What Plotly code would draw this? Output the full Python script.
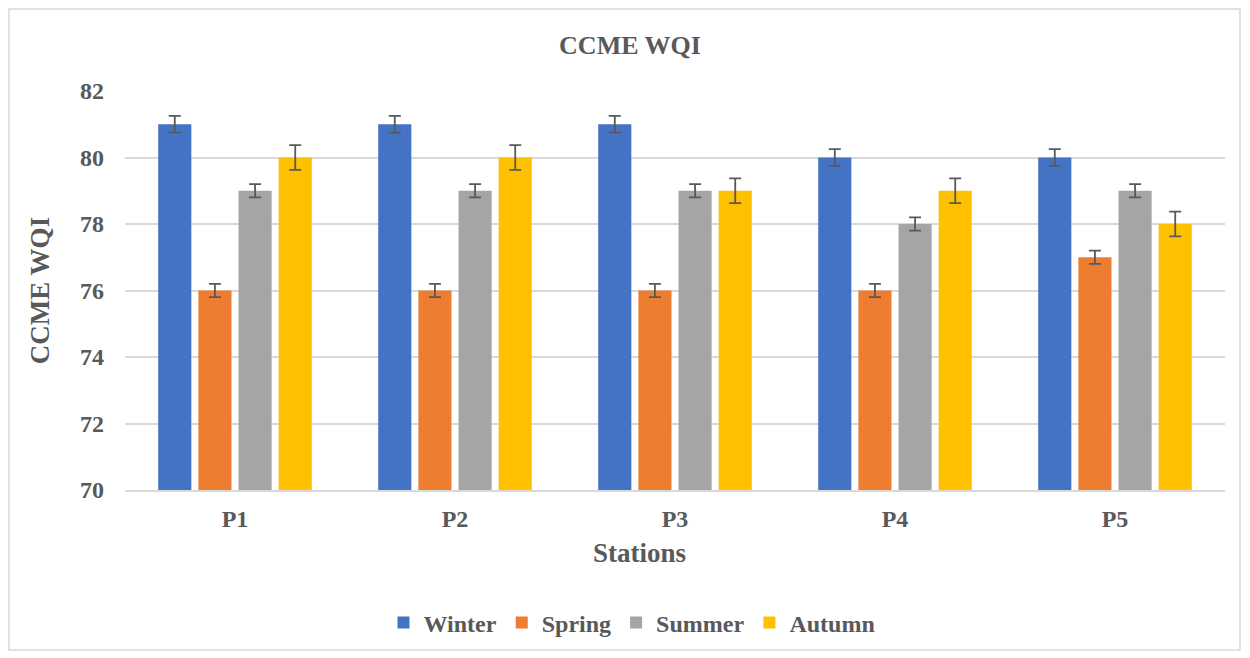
import plotly.graph_objects as go

stations = ["P1", "P2", "P3", "P4", "P5"]
winter = [81, 81, 81, 80, 80]
spring = [76, 76, 76, 76, 77]
summer = [79, 79, 79, 78, 79]
autumn = [80, 80, 79, 79, 78]
err_winter = 0.25
err_spring = 0.2
err_summer = 0.2
err_autumn = 0.37

series = [
    ("Winter", winter, err_winter, "#4472C4"),
    ("Spring", spring, err_spring, "#ED7D31"),
    ("Summer", summer, err_summer, "#A5A5A5"),
    ("Autumn", autumn, err_autumn, "#FFC000"),
]

font_family = "Liberation Serif, Times New Roman, serif"
txt = "#595959"

W, H = 1234, 650
L, T = 117, 83
PW, PH = 1100, 399

fig = go.Figure()
for name, vals, err, col in series:
    fig.add_trace(go.Bar(
        x=stations, y=vals, name="<b>" + name + "</b>", marker_color=col,
        marker_line_width=0,
        error_y=dict(type="constant", value=err, color="#595959", thickness=1.8, width=6),
    ))

fig.update_layout(
    width=W, height=H,
    paper_bgcolor="white", plot_bgcolor="white",
    margin=dict(l=L, r=W - L - PW, t=T, b=H - T - PH),
    barmode="group", bargap=0.27, bargroupgap=0.175,
    title=dict(text="<b>CCME WQI</b>", x=622 / W, xanchor="center", y=1 - 37 / H, yanchor="middle",
               font=dict(family=font_family, size=26, color=txt)),
    font=dict(family=font_family, color=txt),
    legend=dict(orientation="h", x=(624 - L) / PW, xanchor="center", y=-(615 - (T + PH)) / PH, yanchor="middle",
                font=dict(family=font_family, size=24, color=txt), traceorder="normal",
                bgcolor="rgba(0,0,0,0)"),
    showlegend=True,
    annotations=[dict(text="<b>Stations</b>", xref="paper", yref="paper",
                      x=(631 - L) / PW, y=-(545 - (T + PH)) / PH, xanchor="center", yanchor="middle",
                      showarrow=False, font=dict(family=font_family, size=27, color=txt))],
    shapes=[dict(type="rect", xref="paper", yref="paper",
                 x0=-(L - 1) / PW, x1=(W - 2 - L) / PW, y0=-(642 - T - PH) / PH, y1=1 + (T - 1) / PH,
                 line=dict(color="#d9d9d9", width=1.5), fillcolor="rgba(0,0,0,0)", layer="below")],
)
fig.update_yaxes(range=[70, 82], dtick=2, showgrid=True, gridcolor="#d9d9d9", gridwidth=1.5,
                 zeroline=False, tickfont=dict(family=font_family, size=24, color=txt),
                 ticklabelstandoff=20, tickprefix="<b>", ticksuffix="</b>",
                 title=dict(text="<b>CCME WQI</b>", font=dict(family=font_family, size=27, color=txt), standoff=22))
fig.update_xaxes(showline=True, linecolor="#d9d9d9", linewidth=1.5,
                 tickfont=dict(family=font_family, size=24, color=txt),
                 ticklabelstandoff=6, tickprefix="<b>", ticksuffix="</b>")

fig.write_html("out.html")
